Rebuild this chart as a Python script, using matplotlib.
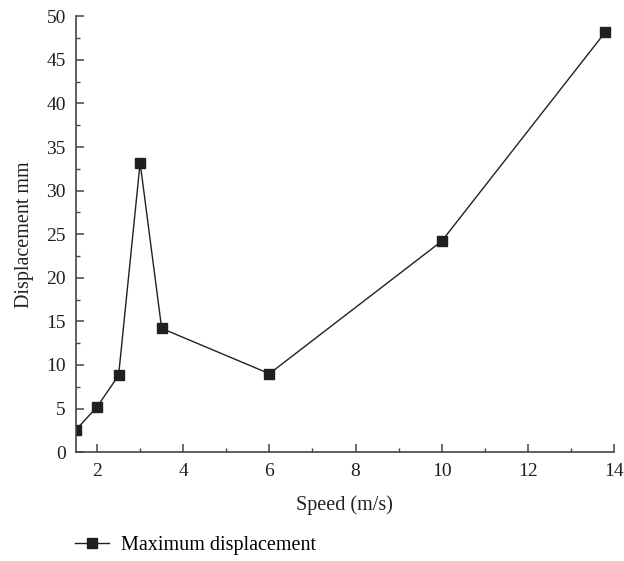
import matplotlib
matplotlib.use("Agg")
import matplotlib.pyplot as plt
from matplotlib.ticker import MultipleLocator

speed = [1.5, 2.0, 2.5, 3.0, 3.5, 6.0, 10.0, 13.8]
displacement = [2.5, 5.2, 8.8, 33.2, 14.2, 9.0, 24.2, 48.2]

plt.rcParams['font.family'] = ['Liberation Serif', 'DejaVu Serif']
ink = '#231f20'

fig = plt.figure(figsize=(6.24, 5.61), dpi=100)
ax = fig.add_axes([0.121, 0.194, 0.863, 0.777])

line, = ax.plot(speed, displacement, '-', color=ink, linewidth=1.0,
                marker='s', markersize=7.5, markerfacecolor=ink,
                markeredgecolor=ink, label='Maximum displacement')

ax.set_xlim(1.5, 14)
ax.set_ylim(0, 50)
ax.xaxis.set_major_locator(MultipleLocator(2))
ax.xaxis.set_minor_locator(MultipleLocator(1))
ax.yaxis.set_major_locator(MultipleLocator(5))
ax.yaxis.set_minor_locator(MultipleLocator(2.5))

for s in ['top', 'right']:
    ax.spines[s].set_visible(False)
for s in ['left', 'bottom']:
    ax.spines[s].set_color('#444444')
    ax.spines[s].set_linewidth(1.2)

ax.tick_params(which='major', direction='in', length=6, width=1.1,
               color='#444444', labelsize=14, labelcolor=ink)
ax.tick_params(axis='x', which='major', pad=8)
ax.tick_params(axis='y', which='major', pad=7)
ax.tick_params(which='minor', direction='in', length=3, width=1.0,
               color='#444444')

ax.set_xlabel('Speed (m/s)', fontsize=14.5, color=ink, labelpad=11)
ax.set_ylabel('Displacement mm', fontsize=14.5, color=ink, labelpad=9)

fig.legend(handles=[line], loc='center left', bbox_to_anchor=(0.12, 0.028),
           frameon=False, fontsize=14.5, handlelength=1.7, handletextpad=0.6,
           borderpad=0, borderaxespad=0)

fig.savefig('out.png', dpi=100)
